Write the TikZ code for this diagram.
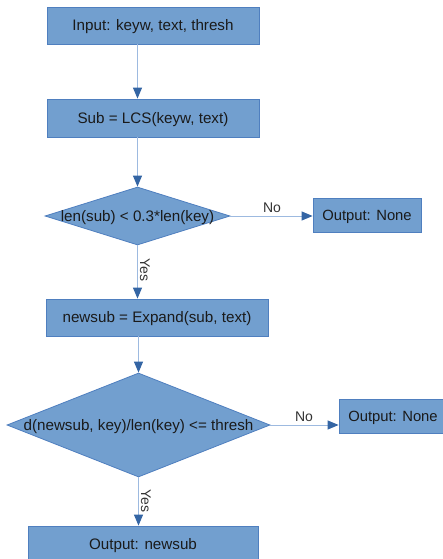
\documentclass[tikz,border=0pt]{standalone}
\usepackage{fontspec}
\setmainfont{Liberation Sans}
\usetikzlibrary{shapes.geometric,arrows.meta}
\definecolor{boxfill}{HTML}{729FCF}
\definecolor{boxline}{HTML}{4F7FBF}
\definecolor{conline}{HTML}{9DBAE0}
\definecolor{tipblue}{HTML}{3465A4}
\definecolor{txt}{HTML}{1A1A1A}
\definecolor{lbl}{HTML}{333333}
\begin{document}
\begin{tikzpicture}[x=1pt,y=-1pt,
  procbox/.style={draw=boxline, fill=boxfill, line width=0.8pt, rectangle, inner sep=0pt,
    text=txt, font=\fontsize{15.2}{18}\selectfont, text height=10.9pt, text depth=0pt},
  outbox/.style={procbox, font=\fontsize{14.8}{17}\selectfont, minimum width=108pt, minimum height=34pt},
  decbox/.style={draw=boxline, fill=boxfill, line width=0.8pt, diamond, inner sep=0pt},
  dtext/.style={text=txt, inner sep=0pt, font=\fontsize{15.2}{18}\selectfont, text height=10.9pt, text depth=0pt},
  lab/.style={text=lbl, inner sep=0pt, font=\fontsize{14}{16}\selectfont, text height=10pt, text depth=0pt},
  conn/.style={draw=conline, line width=1pt, -{Triangle[length=11pt,width=9pt,color=tipblue]}}
]
\useasboundingbox (0,0) rectangle (443,559);
\clip (0,0) rectangle (443,559);

\node[procbox, minimum width=212pt, minimum height=37pt] (b1) at (153,25.5) {Input: keyw, text, thresh};
\node[procbox, minimum width=212pt, minimum height=38pt] (b2) at (153,118) {Sub = LCS(keyw, text)};
\node[decbox, minimum width=185pt, minimum height=58pt] (d1) at (137.5,216) {};
\node[dtext] (d1t) at (d1) {len(sub) < 0.3*len(key)};
\node[outbox] (o1) at (367,215.5) {Output: None};
\node[procbox, minimum width=222pt, minimum height=37pt] (b3) at (157,317.5) {newsub = Expand(sub, text)};
\node[decbox, minimum width=263pt, minimum height=104pt] (d2) at (138.5,425) {};
\node[dtext] (d2t) at (d2) {d(newsub, key)/len(key) <= thresh};
\node[outbox] (o2) at (393,416) {Output: None};
\node[procbox, minimum width=230pt, minimum height=36pt] (b4) at (143,544) {Output: newsub};

\draw[conn] (b1.south -| d1.north) -- (b2.north -| d1.north);
\draw[conn] (b2.south -| d1.north) -- (d1.north);
\draw[conn] (d1.east) -- (d1.east -| o1.west);
\draw[conn] (d1.south) -- (b3.north -| d1.south);
\draw[conn] (b3.south -| d2.north) -- (d2.north);
\draw[conn] (d2.east) -- (d2.east -| o2.west);
\draw[conn] (d2.south) -- (b4.north -| d2.south);

\node[lab] (no1) at (272,207) {No};
\node[lab, rotate=-90] (yes1) at (145,270) {Yes};
\node[lab] (no2) at (304,416) {No};
\node[lab, rotate=-90] (yes2) at (146,501) {Yes};
\end{tikzpicture}
\end{document}
